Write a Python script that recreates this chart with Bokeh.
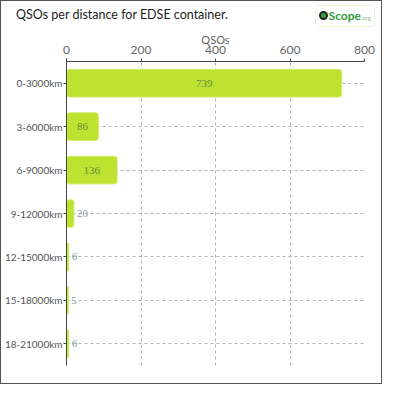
from bokeh.plotting import figure
from bokeh.models import Range1d, ColumnDataSource, LabelSet, FixedTicker, Div
from bokeh.layouts import column
from bokeh.embed import file_html
from bokeh.resources import INLINE

categories = ["0-3000km", "3-6000km", "6-9000km", "9-12000km",
              "12-15000km", "15-18000km", "18-21000km"]
qsos = [739, 86, 136, 20, 6, 5, 6]
x_ticks = [0, 200, 400, 600, 800]
title_text = "QSOs per distance for EDSE container."
axis_title = "QSOs"
logo_main = "Scope"
logo_suffix = ".org"

FONT = "Lato"
W = 382

header = Div(
    text=(
        '<div style="box-sizing:border-box;display:flex;justify-content:space-between;'
        'align-items:center;width:382px;height:28px;padding:0 8px 0 15px;margin:0;">'
        f'<span style="font-family:Lato;font-size:12.5px;color:#222;">{title_text}</span>'
        '<span style="display:inline-flex;align-items:center;border:1px solid #edf3d6;'
        'border-radius:4px;padding:1px 3px;margin-top:2px;">'
        '<span style="display:inline-block;width:9px;height:9px;border-radius:50%;'
        'background:#3c9a46;border:2px solid #1b2a1b;margin-right:1px;"></span>'
        f'<span style="font-family:Lato;font-weight:bold;font-size:12px;color:#2e9a3a;">{logo_main}</span>'
        f'<span style="font-family:Lato;font-size:6px;color:#8cc08c;margin-top:5px;">{logo_suffix}</span>'
        '</span></div>'
    ),
    width=W, height=28, styles={"margin": "0", "padding": "0", "overflow": "hidden"})

p = figure(width=W, height=354,
           y_range=list(reversed(categories)),
           x_range=Range1d(0, 800),
           x_axis_location="above",
           output_backend="svg", toolbar_location=None,
           min_border_left=57, min_border_right=17,
           min_border_top=28, min_border_bottom=18)

src = ColumnDataSource(dict(cat=categories, val=qsos))
p.hbar(y="cat", left=0, right="val", height=0.64, source=src,
       fill_color="#bde22f", line_color="#d4ee74", line_width=1,
       border_radius=3)

inside = [v > 50 for v in qsos]
in_src = ColumnDataSource(dict(
    cat=[c for c, f in zip(categories, inside) if f],
    x=[v / 2 for v, f in zip(qsos, inside) if f],
    t=[str(v) for v, f in zip(qsos, inside) if f]))
out_src = ColumnDataSource(dict(
    cat=[c for c, f in zip(categories, inside) if not f],
    x=[v for v, f in zip(qsos, inside) if not f],
    t=[str(v) for v, f in zip(qsos, inside) if not f]))

p.add_layout(LabelSet(x="x", y="cat", text="t", source=in_src,
                      text_align="center", text_baseline="middle",
                      text_font=FONT, text_font_size="11px",
                      text_color="#6b8a3c"))
p.add_layout(LabelSet(x="x", y="cat", text="t", source=out_src,
                      x_offset=3, text_align="left", text_baseline="middle",
                      text_font=FONT, text_font_size="11px",
                      text_color="#7d9ca8"))

xa = p.xaxis[0]
xa.ticker = FixedTicker(ticks=x_ticks)
xa.axis_label = axis_title
xa.axis_label_text_font = FONT
xa.axis_label_text_font_size = "11px"
xa.axis_label_text_font_style = "normal"
xa.axis_label_text_color = "#666666"
xa.axis_label_standoff = -3
xa.major_label_text_font = FONT
xa.major_label_text_font_size = "12px"
xa.major_label_text_color = "#666666"
xa.axis_line_color = "#444444"
xa.major_tick_line_color = "#444444"
xa.major_tick_out = 3
xa.major_tick_in = 0
xa.minor_tick_line_color = None

ya = p.yaxis[0]
ya.major_label_text_font = FONT
ya.major_label_text_font_size = "10px"
ya.major_label_text_color = "#555555"
ya.axis_line_color = "#444444"
ya.major_tick_line_color = "#444444"
ya.major_tick_out = 3
ya.major_tick_in = 0
ya.major_label_standoff = 1

p.xgrid.grid_line_color = "#b0b0b0"
p.xgrid.grid_line_dash = "3 3"
p.ygrid.grid_line_color = "#b0b0b0"
p.ygrid.grid_line_dash = "3 3"
p.outline_line_color = None

layout = column(header, p, spacing=0, width=W)
layout.styles = {"border": "1px solid #555555"}

open("out.html", "w").write(file_html(layout, INLINE))
